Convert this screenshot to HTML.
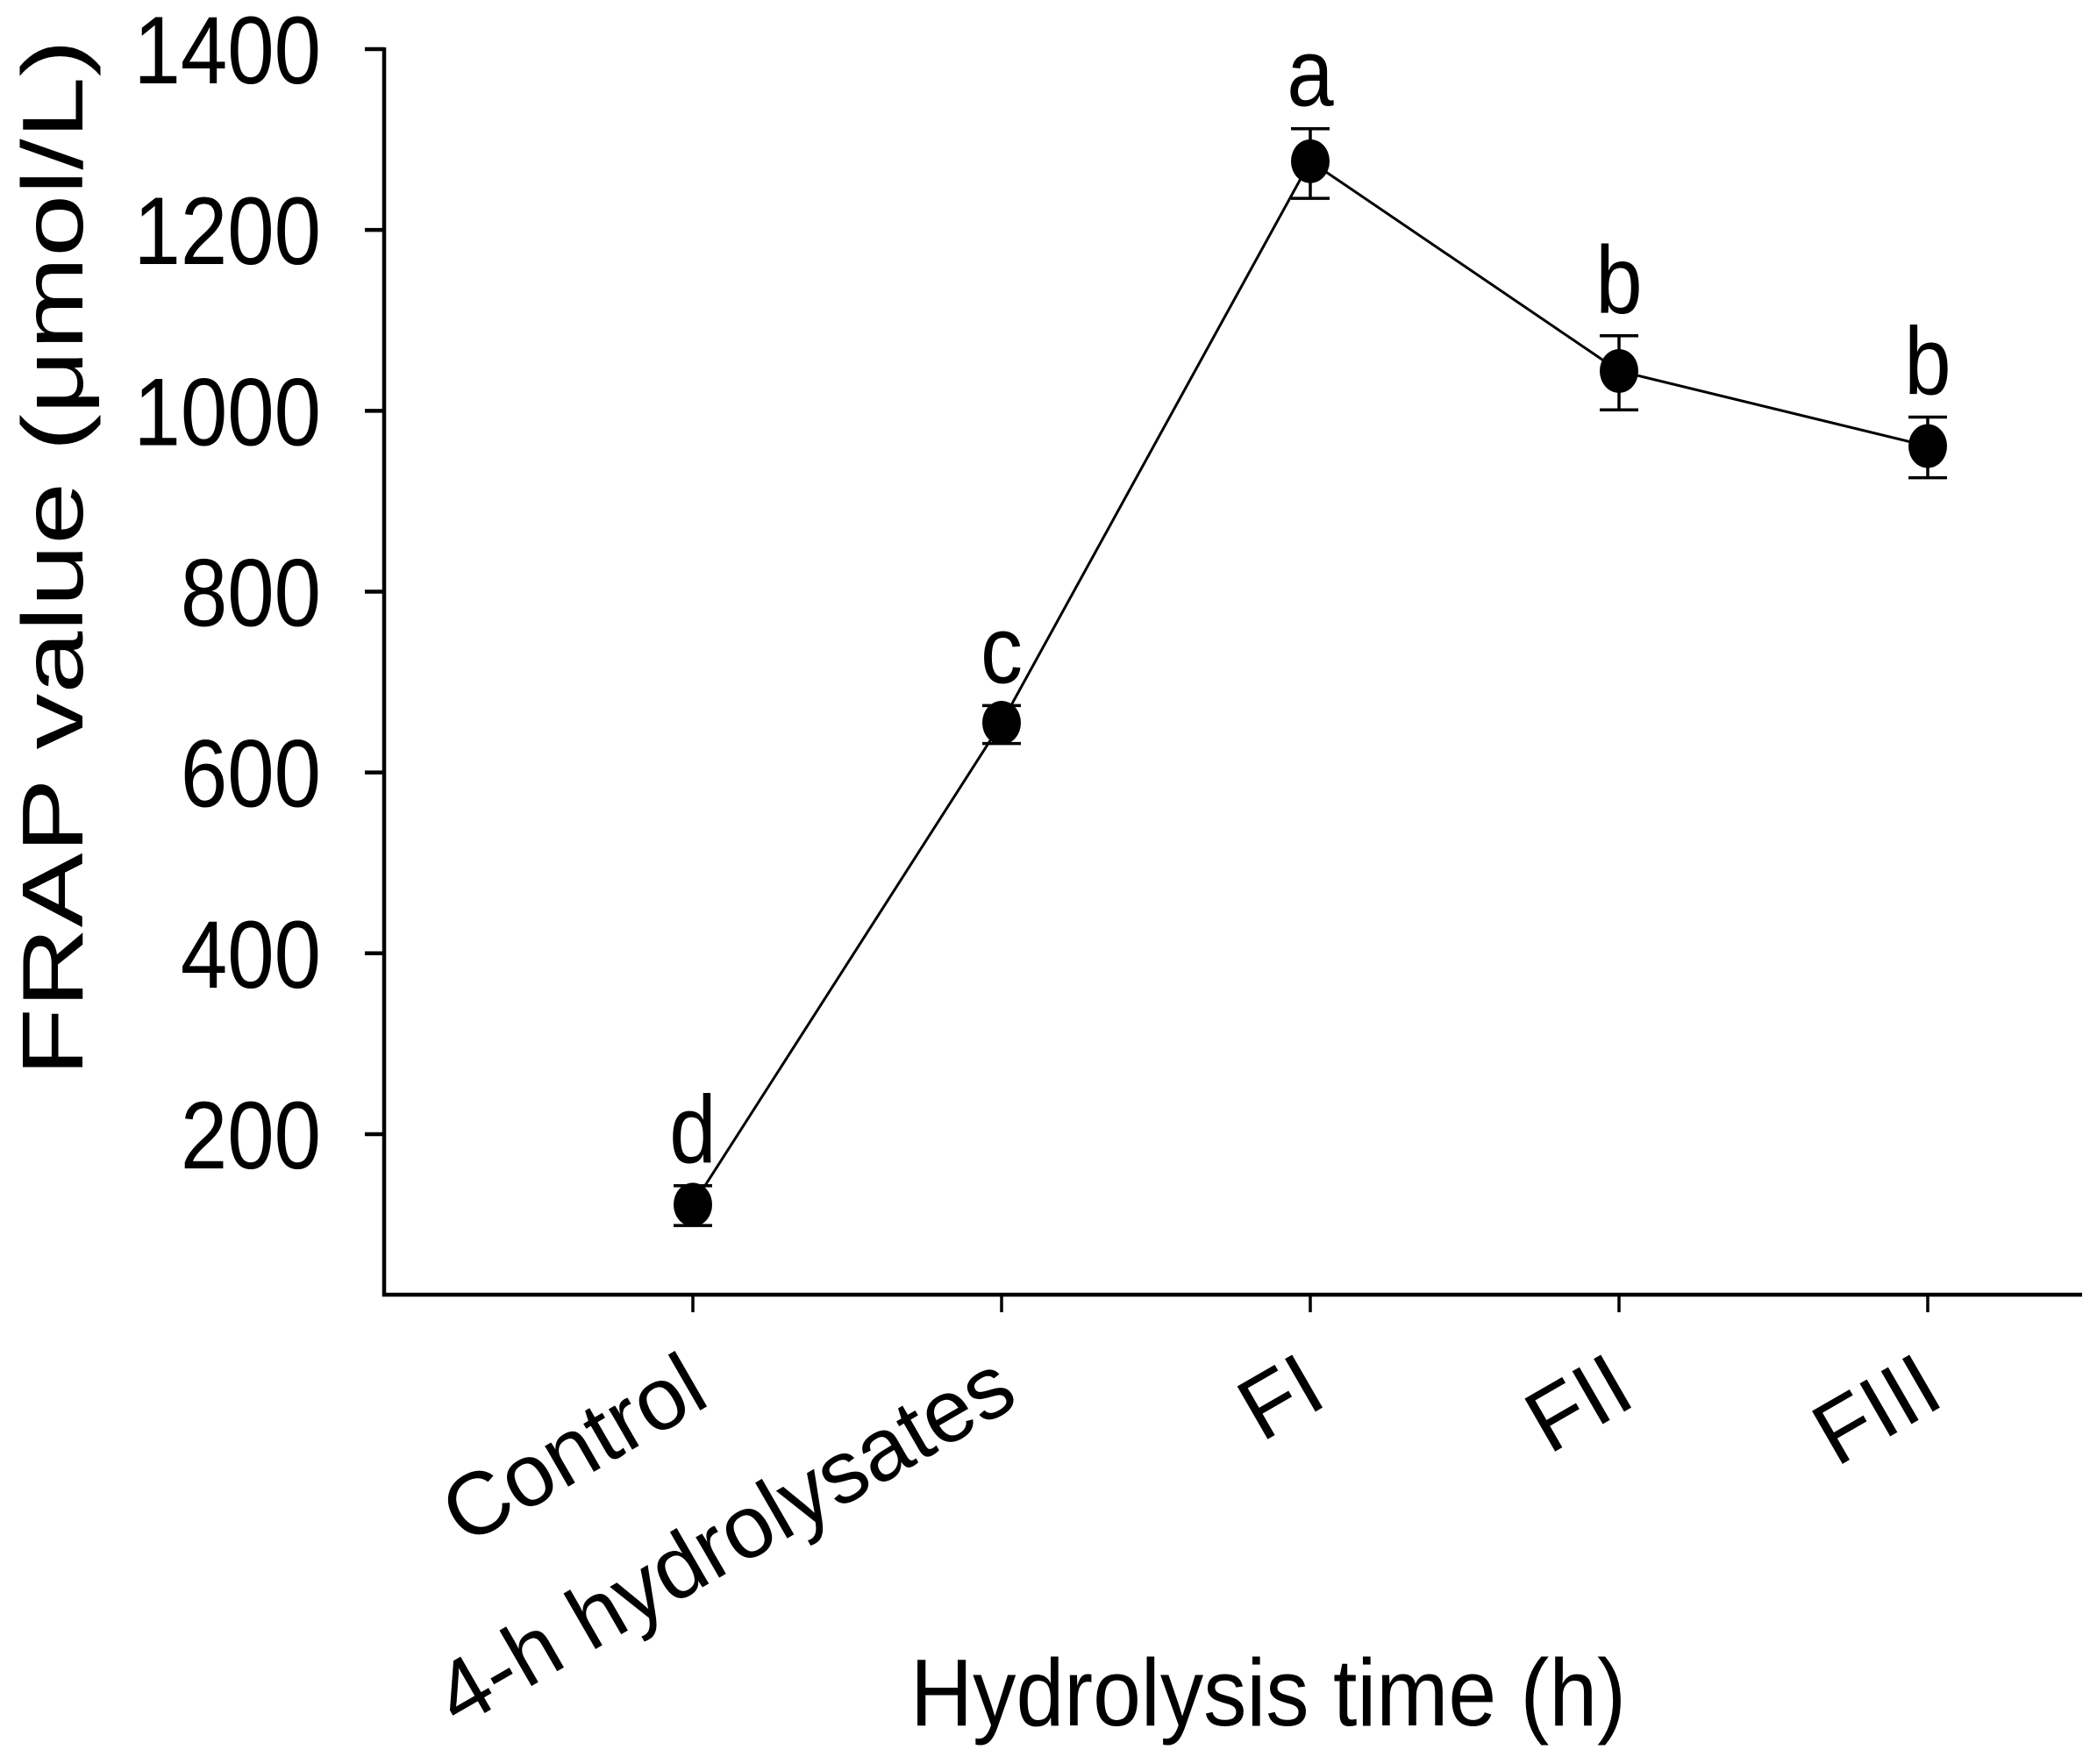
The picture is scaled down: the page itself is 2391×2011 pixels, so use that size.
<!DOCTYPE html>
<html><head><meta charset="utf-8"><style>
html,body{margin:0;padding:0;background:#fff;}
svg{display:block;}
text{font-family:"Liberation Sans",Arial,sans-serif;fill:#000;}
</style></head><body>
<svg id="chart" width="2391" height="2011" viewBox="0 0 2391 2011" xmlns="http://www.w3.org/2000/svg">
<g id="axes"></g>
<g id="series"></g>
<text transform="translate(94,636) rotate(-90)" text-anchor="middle" font-size="98" textLength="1182" lengthAdjust="spacingAndGlyphs">FRAP value (μmol/L)</text>
<text transform="translate(1446,1967) scale(1,1.13)" text-anchor="middle" font-size="96" textLength="816" lengthAdjust="spacingAndGlyphs">Hydrolysis time (h)</text>
</svg>
<script>
const categories = ["Control", "4-h hydrolysates", "FI", "FII", "FIII"];
const values = [122, 655, 1276, 1044, 961];
const errUp = [21, 19, 36, 39, 32];
const errDown = [23, 23, 41, 43, 35];
const letters = ["d", "c", "a", "b", "b"];
const yTicks = [200, 400, 600, 800, 1000, 1200, 1400];

const NS = "http://www.w3.org/2000/svg";
const X0 = 438, XEND = 2374, YBOT = 1476;
function yPos(v){ return 56 + (1400 - v) * 1.0308; }
function xPos(i){ return 790 + i * 352; }
function mk(tag, attrs, parent){
  const e = document.createElementNS(NS, tag);
  for (const k in attrs) e.setAttribute(k, attrs[k]);
  parent.appendChild(e);
  return e;
}
const axes = document.getElementById('axes');
const series = document.getElementById('series');

let l = mk('line', {x1:X0, y1:yPos(1400)-2, x2:X0, y2:YBOT+2, stroke:'#000','stroke-width':4.5}, axes);


l = mk('line', {x1:X0-2, y1:YBOT, x2:XEND, y2:YBOT, stroke:'#000','stroke-width':4.5}, axes);



yTicks.forEach(v => {
  const y = yPos(v);
  const t = mk('line', {x1:X0-22, y1:y, x2:X0, y2:y, stroke:'#000','stroke-width':4.5}, axes);
  
  
  const tx = mk('text', {x:0, y:0, 'text-anchor':'end', 'font-size':96, transform:'translate(366,'+(y+39)+') scale(1,1.14)'}, axes);
  tx.textContent = v;
  
  
});

categories.forEach((c, i) => {
  const x = xPos(i);
  const t = mk('line', {x1:x, y1:YBOT, x2:x, y2:YBOT+20, stroke:'#000','stroke-width':3.5}, axes);
  
  
  const ax = x + 22, ay = YBOT + 124;
  const tx = mk('text', {x:0, y:0, 'text-anchor':'end', 'font-size':101, transform:'translate('+ax+','+ay+') rotate(-30)'}, axes);
  tx.textContent = c;
  
  
});

const pts = values.map((v, i) => xPos(i) + ',' + yPos(v)).join(' ');
const pl = mk('polyline', {points:pts, fill:'none', stroke:'#000', 'stroke-width':3}, series);



values.forEach((v, i) => {
  const x = xPos(i), yt = yPos(v + errUp[i]), yb = yPos(v - errDown[i]);
  const g = mk('g', {}, series);
  
  
  mk('line', {x1:x, y1:yt, x2:x, y2:yb, stroke:'#000','stroke-width':3.5}, g);
  mk('line', {x1:x-22, y1:yt, x2:x+22, y2:yt, stroke:'#000','stroke-width':3.5}, g);
  mk('line', {x1:x-22, y1:yb, x2:x+22, y2:yb, stroke:'#000','stroke-width':3.5}, g);
  const c = mk('ellipse', {cx:x, cy:yPos(v), rx:22, ry:25, fill:'#000'}, series);
  
  
  const lt = mk('text', {x:0, y:0, 'text-anchor':'middle', 'font-size':96, transform:'translate('+x+','+(yt-26)+') scale(1,1.14)'}, series);
  lt.textContent = letters[i];
  
  
});
</script>
</body></html>
